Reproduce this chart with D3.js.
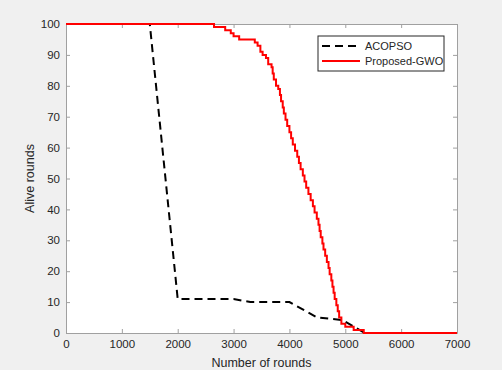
<!DOCTYPE html>
<html>
<head>
<meta charset="utf-8">
<script src="https://cdn.jsdelivr.net/npm/d3@7"></script>
<style>
  body { margin: 0; background: #f0f0f0; }
  text { font-family: "Liberation Sans", Arial, sans-serif; }
</style>
</head>
<body>
<div id="chart"></div>
<script>
// ACOPSO (dashed black)
var acoRounds = [0, 1500, 2000, 3000, 3300, 4000, 4500, 4950, 5350, 7000];
var acoAlive  = [100, 100, 11, 11, 10, 10, 5, 4.2, 0, 0];

// Proposed-GWO (red, stepped)
var gwoRounds = [0, 2650, 2850, 2950, 3000, 3100, 3380, 3430, 3480, 3520, 3580, 3620, 3680, 3700,
  3720, 3760, 3800, 3830, 3850, 3880, 3900, 3930, 3960, 4000, 4030, 4060, 4100, 4140, 4170, 4200,
  4240, 4270, 4300, 4340, 4380, 4420, 4450, 4490, 4520, 4540, 4560, 4590, 4610, 4640, 4670, 4700,
  4720, 4750, 4770, 4790, 4810, 4840, 4865, 4890, 4930, 5000, 5150, 5330, 7000];
var gwoAlive  = [100, 99, 98, 97, 96, 95, 94, 93, 91, 90, 89, 87, 86, 84,
  82, 80, 79, 77, 75, 73, 71, 69, 67, 65, 63, 61, 59, 57, 55, 53,
  51, 49, 47, 45, 43, 41, 39, 37, 35, 33, 31, 29, 27, 25, 23, 21,
  19, 17, 15, 13, 11, 9, 7, 5, 3, 2, 1, 0, 0];

var xTicks = [0, 1000, 2000, 3000, 4000, 5000, 6000, 7000];
var yTicks = [0, 10, 20, 30, 40, 50, 60, 70, 80, 90, 100];

var margin = { top: 24, right: 45, bottom: 37, left: 66 },
    width = 502 - margin.left - margin.right,
    height = 370 - margin.top - margin.bottom;

var svg = d3.select("#chart")
    .append("svg")
    .attr("width", 502)
    .attr("height", 370);

svg.append("rect")
    .attr("width", 502).attr("height", 370)
    .attr("fill", "#f0f0f0");

var g = svg.append("g")
    .attr("transform", "translate(" + margin.left + "," + margin.top + ")");

g.append("rect")
    .attr("width", width).attr("height", height)
    .attr("fill", "#ffffff");

var x = d3.scaleLinear().domain([0, 7000]).range([0, width]);
var y = d3.scaleLinear().domain([0, 100]).range([height, 0]);

// axes, ticks pointing inward, box on
var axisColor = "#a0a0a0";
function styleAxis(sel) {
    sel.select(".domain").attr("stroke", axisColor);
    sel.selectAll(".tick line").attr("stroke", axisColor);
    sel.selectAll(".tick text").attr("fill", "#262626").style("font-size", "11.5px")
        .style("font-family", "'Liberation Sans', Arial, sans-serif");
}

g.append("g")
    .attr("transform", "translate(0," + height + ")")
    .call(d3.axisBottom(x).tickValues(xTicks).tickFormat(d3.format("d"))
        .tickSizeInner(-4).tickSizeOuter(0).tickPadding(7))
    .call(styleAxis);

g.append("g")
    .call(d3.axisLeft(y).tickValues(yTicks).tickFormat(d3.format("d"))
        .tickSizeInner(-4).tickSizeOuter(0).tickPadding(6))
    .call(styleAxis);

g.append("g")
    .call(d3.axisTop(x).tickValues(xTicks).tickSizeInner(-4).tickSizeOuter(0).tickFormat(""))
    .call(styleAxis);

g.append("g")
    .attr("transform", "translate(" + width + ",0)")
    .call(d3.axisRight(y).tickValues(yTicks).tickSizeInner(-4).tickSizeOuter(0).tickFormat(""))
    .call(styleAxis);

var acoData = acoRounds.map(function (r, i) { return { r: r, v: acoAlive[i] }; });
var gwoData = gwoRounds.map(function (r, i) { return { r: r, v: gwoAlive[i] }; });

var line = d3.line()
    .x(function (d) { return x(d.r); })
    .y(function (d) { return y(d.v); });

var stepLine = d3.line()
    .curve(d3.curveStepAfter)
    .x(function (d) { return x(d.r); })
    .y(function (d) { return y(d.v); });

g.append("path")
    .datum(acoData)
    .attr("fill", "none")
    .attr("stroke", "#000000")
    .attr("stroke-width", 2)
    .attr("stroke-dasharray", "8,5")
    .attr("d", line);

g.append("path")
    .datum(gwoData)
    .attr("fill", "none")
    .attr("stroke", "#ff0000")
    .attr("stroke-width", 2)
    .attr("d", stepLine);

// axis labels
svg.append("text")
    .attr("x", margin.left + width / 2)
    .attr("y", 367)
    .attr("fill", "#262626")
    .style("font-size", "12.5px")
    .style("text-anchor", "middle")
    .text("Number of rounds");

svg.append("text")
    .attr("transform", "translate(34," + (margin.top + height / 2) + ") rotate(-90)")
    .attr("fill", "#262626")
    .style("font-size", "12.5px")
    .style("text-anchor", "middle")
    .text("Alive rounds");

// legend
var legend = svg.append("g").attr("transform", "translate(318,36)");
legend.append("rect")
    .attr("width", 126).attr("height", 35)
    .attr("fill", "#ffffff")
    .attr("stroke", "#262626")
    .attr("stroke-width", 1);

var legendItems = [
    { name: "ACOPSO", color: "#000000", dash: "8,5" },
    { name: "Proposed-GWO", color: "#ff0000", dash: null }
];
legendItems.forEach(function (d, i) {
    var ly = 10 + i * 15;
    legend.append("line")
        .attr("x1", 4).attr("x2", 42)
        .attr("y1", ly).attr("y2", ly)
        .attr("stroke", d.color)
        .attr("stroke-width", 2)
        .attr("stroke-dasharray", d.dash);
    legend.append("text")
        .attr("x", 47).attr("y", ly + 4)
        .attr("fill", "#262626")
        .style("font-size", "11px")
        .text(d.name);
});
</script>
</body>
</html>
